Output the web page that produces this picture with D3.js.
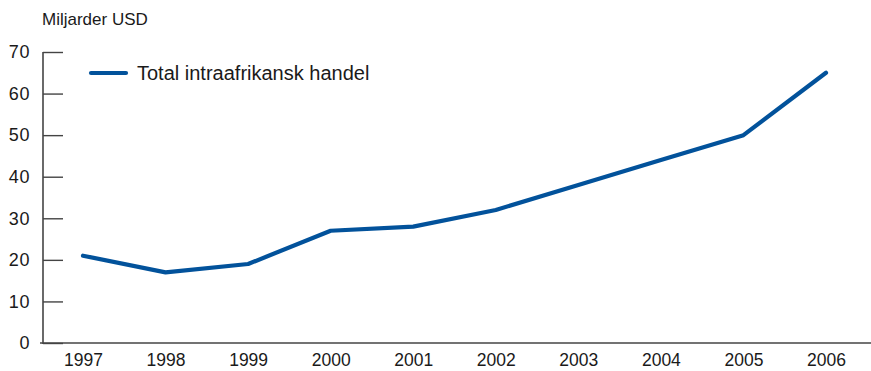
<!DOCTYPE html>
<html><head><meta charset="utf-8">
<script src="https://cdn.jsdelivr.net/npm/d3@7"></script>
<style>body{margin:0;background:#fff}svg{display:block}text{font-family:"Liberation Sans",Arial,sans-serif;fill:#1a1a1a}</style>
</head><body><svg id="c" width="871" height="371"></svg>
<script>
const years = ["1997","1998","1999","2000","2001","2002","2003","2004","2005","2006"];
const values = [21,17,19,27,28,32,38,44,50,65];
const yTicks = [0,10,20,30,40,50,60,70];
const seriesName = "Total intraafrikansk handel";
const unitLabel = "Miljarder USD";

const svg = d3.select("#c");
const x = d3.scalePoint().domain(years).range([83,826]);
const y = d3.scaleLinear().domain([0,70]).range([343,52]);
const axisColor = "#444";

// y axis
const ya = svg.append("g").attr("transform","translate(43,0)")
  .call(d3.axisRight(y).tickValues(yTicks).tickSize(20).tickFormat(d=>""));
ya.select(".domain").remove();
ya.selectAll("line").attr("stroke",axisColor).attr("stroke-width",1.4);
svg.append("line").attr("x1",43).attr("x2",43).attr("y1",y(70)).attr("y2",y(0)+1)
  .attr("stroke",axisColor).attr("stroke-width",1.6);
svg.selectAll(".ylab").data(yTicks).join("text").attr("class","ylab")
  .attr("x",30).attr("y",d=>y(d)).attr("dy","0.35em").attr("text-anchor","end")
  .attr("font-size",18).attr("letter-spacing",0.6).text(d=>d);

// x axis
svg.append("line").attr("x1",40).attr("x2",871).attr("y1",y(0)).attr("y2",y(0))
  .attr("stroke",axisColor).attr("stroke-width",1.6);
const xa = svg.append("g").attr("transform",`translate(0,${y(0)})`)
  .call(d3.axisBottom(x).tickSize(0).tickPadding(0));
xa.select(".domain").remove();
xa.selectAll("text").attr("dy",null).attr("y",23).attr("font-size",17.5)
  .attr("font-family","Liberation Sans, Arial, sans-serif").attr("fill","#1a1a1a");

// unit label
svg.append("text").attr("x",42).attr("y",25).attr("font-size",17).text(unitLabel);

// line
const line = d3.line().x((d,i)=>x(years[i])).y(d=>y(d));
svg.append("path").datum(values).attr("d",line).attr("fill","none")
  .attr("stroke","#02529b").attr("stroke-width",4.2).attr("stroke-linejoin","round").attr("stroke-linecap","round");

// legend
svg.append("line").attr("x1",91).attr("x2",126).attr("y1",73).attr("y2",73)
  .attr("stroke","#02529b").attr("stroke-width",4.2).attr("stroke-linecap","round");
svg.append("text").attr("x",137).attr("y",73).attr("dy","0.35em").attr("font-size",20).text(seriesName);
</script></body></html>
